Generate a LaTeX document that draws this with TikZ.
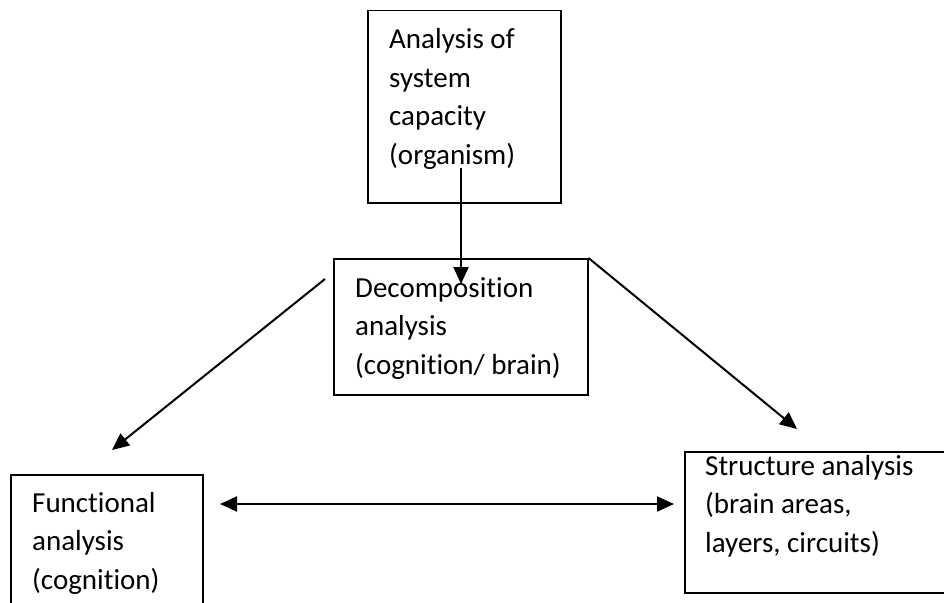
\documentclass[tikz,border=0pt]{standalone}
\usepackage{fontspec}
\setmainfont{Carlito}[Ligatures=NoCommon]
\usetikzlibrary{arrows.meta}
\begin{document}
\begin{tikzpicture}[x=1pt,y=-1pt,
  box/.style={draw=black,line width=1.5pt,inner sep=0pt,anchor=north west},
  txt/.style={anchor=base west,align=left,inner sep=0pt,
    font=\fontsize{29}{38.5}\selectfont},
  conn/.style={draw=black,line width=2pt,-{Triangle[length=17pt,width=15pt]}},
  bothconn/.style={draw=black,line width=2pt,
    {Triangle[length=17pt,width=15pt]}-{Triangle[length=17pt,width=15pt]}}]
\useasboundingbox (0,0) rectangle (944,602);
\clip (0,0) rectangle (944,602);
\fill[white] (0,0) rectangle (944,602);

% boxes
\node[box,minimum width=193pt,minimum height=192pt] (top) at (367,10) {};
\node[box,minimum width=254pt,minimum height=136pt] (dec) at (333,258) {};
\node[box,minimum width=192pt,minimum height=160pt] (fun) at (10,474) {};
\node[box,minimum width=280pt,minimum height=141pt] (str) at (684,451) {};

% box texts (placed by the baseline of their last line)
\node[txt] (toptxt) at (389,164) {Analysis of\\system\\capacity\\(organism)};
\node[txt] (dectxt) at (355,374) {Decomposition\\analysis\\(cognition/ brain)};
\node[txt] (funtxt) at (32,589) {Functional\\analysis\\(cognition)};
\node[txt] (strtxt) at (705,552) {Structure analysis\\(brain areas,\\layers, circuits)};

% connector end points
\coordinate (vtop) at (461,168);
\coordinate (vbot) at (461,284);
\coordinate (ltop) at (325,279);
\coordinate (lbot) at (112,450);
\coordinate (rbot) at (797,429);
\coordinate (hl) at (220,504);
\coordinate (hr) at (674,504);

% connectors
\draw[conn] (vtop) -- (vbot);
\draw[conn] (ltop) -- (lbot);
\draw[conn] (dec.north east) -- (rbot);
\draw[bothconn] (hl) -- (hr);
\end{tikzpicture}
\end{document}
